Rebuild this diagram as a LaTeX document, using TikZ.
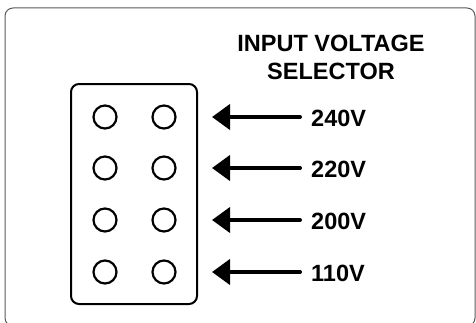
\documentclass[tikz,border=0pt]{standalone}
\usepackage{fontspec}
\setmainfont{Liberation Sans}
\usetikzlibrary{arrows.meta}
\begin{document}
\begin{tikzpicture}[x=1pt,y=1pt,
  hole/.style={draw, circle, line width=2.2pt, minimum size=23pt, inner sep=0pt},
  lab/.style={anchor=base west, inner sep=0pt, font=\fontsize{23.5}{27}\selectfont\bfseries},
  ttl/.style={anchor=base, inner sep=0pt, font=\fontsize{23.5}{27}\selectfont\bfseries},
  arr/.style={line width=4pt, line cap=round, -{Triangle[length=18pt,width=25pt]}, shorten <=11pt},
  frame/.style={draw=black!65, line width=1pt, rounded corners=8pt},
  panel/.style={draw, line width=2pt, rounded corners=8pt}]
\useasboundingbox (0,0) rectangle (476,322);
\draw[frame] (5,-4) rectangle (475,314);
\node[ttl] (t1) at (331,270) {INPUT VOLTAGE};
\node[ttl] (t2) at (331,243) {SELECTOR};
\draw[panel] (71,18) rectangle (197,238);
\foreach \r/\y in {1/205,2/154,3/102,4/50}{
  \node[hole] (a\r) at (105,\y) {};
  \node[hole] (b\r) at (164,\y) {};
  \coordinate (tip\r) at (212,\y);
}
\node[lab] (l1) at (311,196) {240V};
\node[lab] (l2) at (311,145) {220V};
\node[lab] (l3) at (311,93) {200V};
\node[lab] (l4) at (311,41) {110V};
\foreach \r in {1,2,3,4}{
  \draw[arr] (l\r.west |- tip\r) -- (tip\r);
}
\end{tikzpicture}
\end{document}
